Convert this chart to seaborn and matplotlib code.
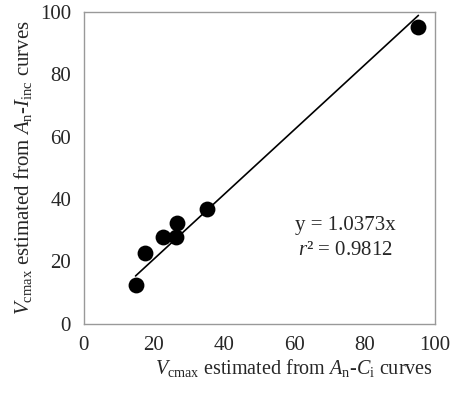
import numpy as np
import pandas as pd
import seaborn as sns
import matplotlib.pyplot as plt

# Vcmax from An-Ci curves (x) vs from An-Iinc curves (y)
vcmax_ci = [14.8, 17.5, 22.7, 26.3, 26.7, 35.2, 95.3]
vcmax_iinc = [12.5, 22.6, 27.7, 27.7, 32.4, 36.8, 95.1]
slope = 1.0373
r2 = 0.9812
ticks = [0, 20, 40, 60, 80, 100]

df = pd.DataFrame({'ci': vcmax_ci, 'iinc': vcmax_iinc})

sns.set_style("white")
plt.rcParams['font.family'] = ['Liberation Serif', 'DejaVu Serif']
plt.rcParams['mathtext.fontset'] = 'custom'
plt.rcParams['mathtext.rm'] = 'Liberation Serif'
plt.rcParams['mathtext.it'] = 'Liberation Serif:italic'

fig = plt.figure(figsize=(4.54, 3.94), dpi=100)
ax = fig.add_axes([0.184, 0.178, 0.774, 0.792])

# regression line through the origin, drawn over the data range
fit = pd.DataFrame({'x': [min(vcmax_ci), max(vcmax_ci)]})
fit['y'] = slope * fit['x']
sns.lineplot(data=fit, x='x', y='y', color='black', linewidth=1.2, ax=ax)

sns.scatterplot(data=df, x='ci', y='iinc', color='black', s=130,
                edgecolor='black', linewidth=0, ax=ax, zorder=3)

ax.set_xlim(0, 100)
ax.set_ylim(0, 100)
ax.set_xticks(ticks)
ax.set_yticks(ticks)
ax.tick_params(direction='in', length=4, color='#999999', labelsize=15, pad=9)
for sp in ax.spines.values():
    sp.set_color('#999999')
    sp.set_linewidth(1.0)

ax.set_xlabel(r'$V_{\mathrm{cmax}}$ estimated from $A_{\mathrm{n}}$-$C_{\mathrm{i}}$ curves',
              fontsize=14.5)
ax.xaxis.set_label_coords(0.6, -0.105)
ax.set_ylabel(r'$V_{\mathrm{cmax}}$ estimated from $A_{\mathrm{n}}$-$I_{\mathrm{inc}}$ curves',
              fontsize=15, labelpad=4)

ax.text(0.744, 0.315, 'y = 1.0373x', transform=ax.transAxes, fontsize=15, ha='center', va='center')
ax.text(0.744, 0.235, r'$r$² = ' + f'{r2:.4f}', transform=ax.transAxes, fontsize=15,
        ha='center', va='center')

plt.savefig('out.png', dpi=100)
